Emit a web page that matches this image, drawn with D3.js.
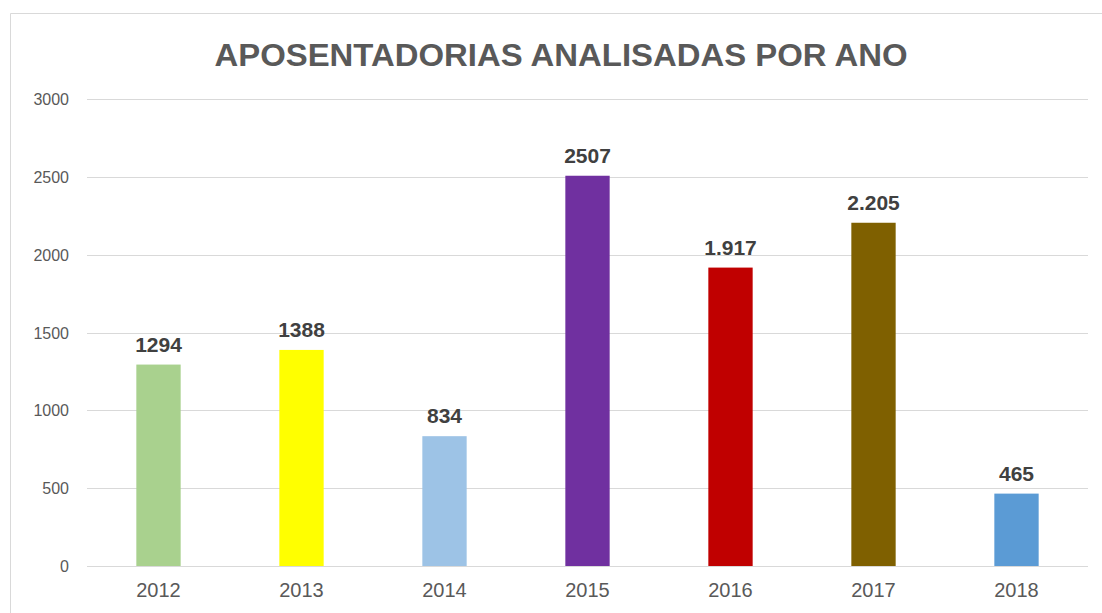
<!DOCTYPE html>
<html>
<head>
<meta charset="utf-8">
<script src="https://cdn.jsdelivr.net/npm/d3@7"></script>
<style>
  body { margin: 0; background: #fff; }
  text { font-family: "Liberation Sans", Arial, sans-serif; }
</style>
</head>
<body>
<svg id="chart" width="1102" height="613"></svg>
<script>
var years = ["2012", "2013", "2014", "2015", "2016", "2017", "2018"]
var totals = [1294, 1388, 834, 2507, 1917, 2205, 465]
var labels = ["1294", "1388", "834", "2507", "1.917", "2.205", "465"]
var colors = ["#a9d18e", "#ffff00", "#9dc3e6", "#7030a0", "#c00000", "#7f6000", "#5b9bd5"]
var yTicks = [0, 500, 1000, 1500, 2000, 2500, 3000]

var svg = d3.select("#chart")

// chart frame
svg.append("path")
  .attr("d", "M10.5 613 L10.5 13.5 L1102 13.5")
  .attr("fill", "none")
  .attr("stroke", "#d9d9d9")

svg.append("text")
  .attr("x", 561)
  .attr("y", 66)
  .attr("text-anchor", "middle")
  .attr("font-size", 31)
  .attr("font-weight", "bold")
  .attr("fill", "#595959")
  .attr("textLength", 693)
  .attr("lengthAdjust", "spacingAndGlyphs")
  .text("APOSENTADORIAS ANALISADAS POR ANO")

var x = d3.scaleBand().domain(years).range([87, 1088]).paddingInner(0.69).paddingOuter(0.345)
var y = d3.scaleLinear().domain([0, 3000]).range([566, 99])

// gridlines
svg.append("g")
  .selectAll("line")
  .data(yTicks)
  .join("line")
  .attr("x1", 87)
  .attr("x2", 1088)
  .attr("y1", function(d) { return Math.round(y(d)) + 0.5 })
  .attr("y2", function(d) { return Math.round(y(d)) + 0.5 })
  .attr("stroke", "#d9d9d9")

var yAxis = svg.append("g")
  .attr("transform", "translate(69,0)")
  .call(d3.axisLeft(y).tickValues(yTicks).tickFormat(d3.format("d")).tickSize(0).tickPadding(0))
yAxis.select(".domain").remove()
yAxis.selectAll("text")
  .attr("font-size", 16)
  .attr("fill", "#595959")
  .attr("dy", "0.35em")

var xAxis = svg.append("g")
  .attr("transform", "translate(0,566)")
  .call(d3.axisBottom(x).tickSize(0).tickPadding(17))
xAxis.select(".domain").remove()
xAxis.selectAll("text")
  .attr("font-size", 20)
  .attr("fill", "#595959")

// bars
svg.append("g")
  .selectAll("rect")
  .data(totals)
  .join("rect")
  .attr("x", function(d, i) { return x(years[i]) })
  .attr("width", x.bandwidth())
  .attr("y", function(d) { return y(d) })
  .attr("height", function(d) { return y(0) - y(d) })
  .attr("fill", function(d, i) { return colors[i] })

// value labels
svg.append("g")
  .selectAll("text")
  .data(totals)
  .join("text")
  .attr("x", function(d, i) { return x(years[i]) + x.bandwidth() / 2 })
  .attr("y", function(d) { return y(d) - 13 })
  .attr("text-anchor", "middle")
  .attr("font-size", 21)
  .attr("font-weight", "bold")
  .attr("fill", "#404040")
  .text(function(d, i) { return labels[i] })
</script>
</body>
</html>
